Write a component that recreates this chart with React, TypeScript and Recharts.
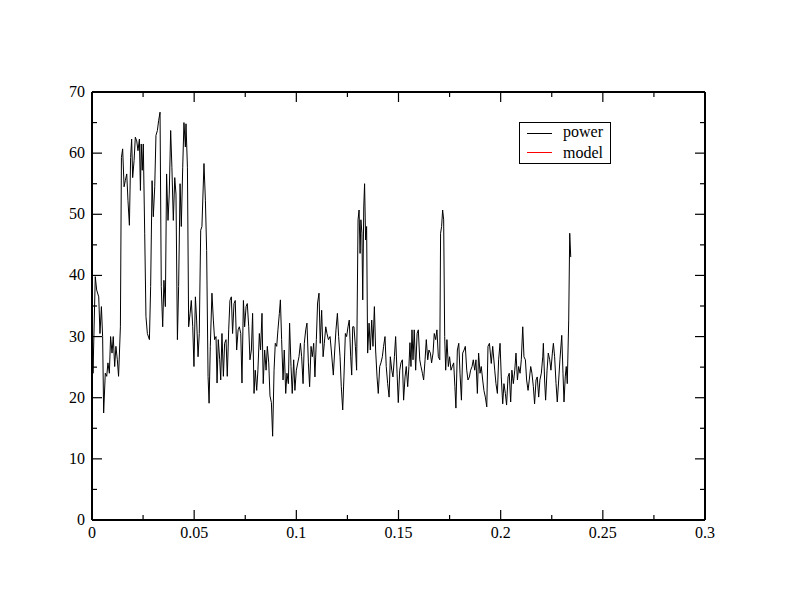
import React from 'react';
import { LineChart, Line, XAxis, YAxis, Legend } from 'recharts';

// sample times (s)
const times = [
  0, 0.0005, 0.0016, 0.0023, 0.0033, 0.0039, 0.0046, 0.0052, 0.0057, 0.0065,
  0.0072, 0.0078, 0.0085, 0.0091, 0.0098, 0.0104, 0.0111, 0.0117, 0.0124, 0.013,
  0.0139, 0.0144, 0.015, 0.0157, 0.0163, 0.017, 0.0176, 0.0183, 0.0189, 0.0194,
  0.0199, 0.0206, 0.0212, 0.0219, 0.0225, 0.0232, 0.0237, 0.0241, 0.0246, 0.0251,
  0.0258, 0.0264, 0.0271, 0.0281, 0.0287, 0.0294, 0.03, 0.0307, 0.0313, 0.032,
  0.0326, 0.0333, 0.0339, 0.0346, 0.0352, 0.0359, 0.0365, 0.0372, 0.0378, 0.0385,
  0.0391, 0.0398, 0.0405, 0.0411, 0.0418, 0.0424, 0.0431, 0.0437, 0.0444, 0.045,
  0.0457, 0.046, 0.0467, 0.0473, 0.048, 0.0486, 0.0493, 0.0499, 0.0506, 0.0512,
  0.0519, 0.0525, 0.0532, 0.0538, 0.0548, 0.0555, 0.0561, 0.0568, 0.0573, 0.0579,
  0.0587, 0.0594, 0.06, 0.0607, 0.0612, 0.0618, 0.0625, 0.063, 0.0636, 0.0643,
  0.0649, 0.0656, 0.0662, 0.0669, 0.0675, 0.0682, 0.0688, 0.0695, 0.0701, 0.0708,
  0.0715, 0.0721, 0.0728, 0.0734, 0.0741, 0.0747, 0.0754, 0.076, 0.0767, 0.0773,
  0.078, 0.0786, 0.0793, 0.0799, 0.0806, 0.0812, 0.0819, 0.0825, 0.0832, 0.0838,
  0.0845, 0.0852, 0.0858, 0.0865, 0.0871, 0.0878, 0.0884, 0.0891, 0.0897, 0.0904,
  0.091, 0.0917, 0.0922, 0.0928, 0.0935, 0.0941, 0.0948, 0.0954, 0.0961, 0.0967,
  0.0974, 0.098, 0.0987, 0.0993, 0.1, 0.1007, 0.1013, 0.102, 0.1026, 0.1033,
  0.1039, 0.1046, 0.1052, 0.1059, 0.1065, 0.1072, 0.1078, 0.1085, 0.1091, 0.1098,
  0.1104, 0.1111, 0.1117, 0.1124, 0.1131, 0.1137, 0.1144, 0.115, 0.1157, 0.1165,
  0.1171, 0.1181, 0.1188, 0.1194, 0.1201, 0.1207, 0.1214, 0.122, 0.1227, 0.1233,
  0.124, 0.1246, 0.1253, 0.1259, 0.1266, 0.1271, 0.1276, 0.1282, 0.1289, 0.1295,
  0.1302, 0.1307, 0.1312, 0.1316, 0.1321, 0.1325, 0.133, 0.1334, 0.1339, 0.1344,
  0.1349, 0.1356, 0.1362, 0.1369, 0.1375, 0.1382, 0.1388, 0.1395, 0.1401, 0.1408,
  0.1414, 0.1421, 0.1427, 0.1434, 0.144, 0.1447, 0.1454, 0.146, 0.1467, 0.1473,
  0.148, 0.1486, 0.1493, 0.1499, 0.1506, 0.1512, 0.1519, 0.1525, 0.1532, 0.1538,
  0.1545, 0.1551, 0.1556, 0.1561, 0.1566, 0.1571, 0.1577, 0.1584, 0.1591, 0.1597,
  0.1604, 0.161, 0.1617, 0.1623, 0.163, 0.1636, 0.1643, 0.1649, 0.1656, 0.1662,
  0.1669, 0.1675, 0.1682, 0.1688, 0.1695, 0.1702, 0.1706, 0.1711, 0.1716, 0.1721,
  0.1726, 0.1731, 0.1737, 0.1744, 0.175, 0.1757, 0.1763, 0.177, 0.1776, 0.1781,
  0.1788, 0.1795, 0.1801, 0.1808, 0.1814, 0.1821, 0.1827, 0.1834, 0.184, 0.1847,
  0.1853, 0.186, 0.1866, 0.1873, 0.1879, 0.1886, 0.1892, 0.1899, 0.1905, 0.1912,
  0.1918, 0.1925, 0.1932, 0.1938, 0.1945, 0.1954, 0.1961, 0.1971, 0.1977, 0.1984,
  0.199, 0.1997, 0.2003, 0.201, 0.2016, 0.2023, 0.2029, 0.2036, 0.2042, 0.2049,
  0.2055, 0.2062, 0.2069, 0.2075, 0.2082, 0.2088, 0.2095, 0.2101, 0.2108, 0.2114,
  0.2121, 0.2127, 0.2134, 0.214, 0.2147, 0.2153, 0.216, 0.2166, 0.2173, 0.2179,
  0.2186, 0.2192, 0.2199, 0.2206, 0.2209, 0.2215, 0.222, 0.2227, 0.2233, 0.224,
  0.2246, 0.2253, 0.2258, 0.2264, 0.2271, 0.2277, 0.2284, 0.229, 0.2299, 0.2305,
  0.231, 0.2316, 0.2321, 0.2326, 0.2333, 0.2338, 0.2343,
];

const power = [
  32.7, 24, 39.8, 37.6, 36.5, 30.5, 34.9, 30, 17.5, 24,
  23.5, 25.7, 24, 30, 27.3, 30, 25.1, 28.4, 26.2, 23.5,
  31.6, 59.3, 60.7, 54.5, 55.5, 56.6, 52.3, 48.2, 59.3, 62.3,
  56, 58.8, 62.6, 62, 60.4, 62.3, 53.9, 61.5, 57.2, 61.5,
  46.8, 33.3, 30.5, 29.5, 38.2, 55.5, 49.6, 54.5, 62.9, 63.7,
  65.3, 66.7, 38.2, 31.6, 39.2, 34.9, 56.6, 49, 53.3, 63.7,
  57.7, 49, 56, 53.3, 29.5, 38.2, 55, 48, 57.7, 65,
  61, 64.8, 57.7, 31.6, 33.8, 35.9, 31.6, 25.1, 36.5, 32.7,
  26.7, 30.5, 47.4, 48, 58.3, 52.3, 44.1, 23.5, 19.1, 28.4,
  37.1, 32.7, 29.5, 30, 22.4, 29.5, 26.2, 22.9, 30.5, 23.5,
  28.9, 29.5, 23.5, 31.1, 35.9, 36.5, 30.5, 35.4, 35.9, 27.8,
  31.1, 31.6, 30.5, 22.4, 35.9, 31.6, 34.9, 35.4, 31.6, 26.2,
  27.8, 33.8, 20.7, 24.5, 21.2, 24.5, 30.5, 27.8, 33.8, 22.3,
  27.8, 24.5, 28.4, 25.7, 20.3, 19.2, 13.7, 24.5, 28.9, 28.4,
  31.1, 33.8, 36, 29.5, 22.9, 27.8, 20.7, 24, 22.3, 32.2,
  25.1, 20.7, 26.2, 21.2, 24.5, 25.7, 26.7, 28.9, 26.7, 22.3,
  28.9, 31.1, 32.2, 25.7, 21.8, 28.4, 26.7, 28.9, 23.4, 29.5,
  35.5, 37.1, 28.9, 34.3, 26.7, 28.9, 31.6, 30.5, 29.5, 30,
  27.8, 23.7, 27.8, 31.1, 33.8, 30, 26.7, 21.8, 18, 23.4,
  30.5, 30, 31.6, 32.7, 26.7, 23.7, 31.6, 31.6, 28.4, 24.5,
  49.1, 50.7, 43.6, 49.1, 46.9, 36, 51.2, 55, 45.8, 48,
  27.3, 32.2, 27.8, 32.7, 28.4, 34.9, 27.8, 23.4, 20.7, 25.1,
  25.7, 26.7, 28.4, 30, 25.1, 22.3, 20.1, 26.7, 24.5, 23.4,
  26.7, 30, 24, 19.2, 24.5, 25.7, 26.2, 19.6, 23.4, 25.1,
  21.8, 25.1, 29, 25.1, 31.1, 26.2, 31.1, 24.5, 30.5, 31.1,
  26.2, 25.1, 24, 22.9, 26.2, 29.5, 26.2, 27.8, 27.3, 25.7,
  27.3, 30.5, 29.5, 31.1, 26.7, 26.2, 46.9, 48, 50.7, 49.1,
  30, 24.5, 29.5, 25.1, 26.7, 24.5, 25.1, 25.7, 21.8, 18.3,
  27.8, 28.9, 24, 19.6, 27.3, 27.8, 28.4, 24.5, 22.9, 23.4,
  24.5, 25.1, 26.2, 24.5, 26.2, 20.7, 27.3, 24, 25.1, 22.9,
  21.2, 20.1, 18.5, 28.4, 28.9, 25.6, 28.4, 24.5, 22.3, 20.7,
  26.2, 28.9, 23.4, 19, 22.3, 20.7, 18.8, 23.4, 24, 19.3,
  24.5, 22.3, 24.5, 27.3, 22.9, 25.1, 24, 26.2, 31.6, 26.7,
  26.2, 22.9, 21.2, 22.9, 25.1, 24, 21.8, 19, 22.9, 23.4,
  20.1, 22.9, 24, 26.7, 28.9, 22.9, 19.6, 24.5, 27.3, 26.2,
  24.5, 27.3, 28.9, 26.7, 22.3, 19.3, 22.9, 26.2, 30.2, 24,
  19.3, 23.4, 25.1, 22.3, 32.7, 46.9, 43,
];

const modelTimes = [0, 0.2343];
const modelValues = [0, 0];

const seriesOrder = ['power', 'model'];
const xTicks = [0, 0.025, 0.05, 0.075, 0.1, 0.125, 0.15, 0.175, 0.2, 0.225, 0.25, 0.275, 0.3];
const yTicks = [0, 5, 10, 15, 20, 25, 30, 35, 40, 45, 50, 55, 60, 65, 70];

const powerData = times.map((t, i) => ({ t, power: power[i] }));
const modelData = modelTimes.map((t, i) => ({ t, model: modelValues[i] }));

const FONT = '"Liberation Serif", "Times New Roman", serif';
const isMajor = (v: number, step: number) => Math.abs(v / step - Math.round(v / step)) < 1e-6;
const fmt = (v: number) => String(parseFloat(v.toFixed(3)));

const BottomTick = (props: any) => {
  const { x, y, payload } = props;
  const major = isMajor(payload.value, 0.05);
  return (
    <g>
      <line x1={x} y1={y} x2={x} y2={y - (major ? 10 : 5)} stroke="#000" strokeWidth={1.2} />
      {major && (
        <text x={x} y={y + 18} textAnchor="middle" fontSize={16} fontFamily={FONT} fill="#000">
          {fmt(payload.value)}
        </text>
      )}
    </g>
  );
};

const TopTick = (props: any) => {
  const { x, y, payload } = props;
  const major = isMajor(payload.value, 0.05);
  return <line x1={x} y1={y} x2={x} y2={y + (major ? 10 : 5)} stroke="#000" strokeWidth={1.2} />;
};

const LeftTick = (props: any) => {
  const { x, y, payload } = props;
  const major = isMajor(payload.value, 10);
  return (
    <g>
      <line x1={x} y1={y} x2={x + (major ? 10 : 5)} y2={y} stroke="#000" strokeWidth={1.2} />
      {major && (
        <text x={x - 7} y={y + 5} textAnchor="end" fontSize={16} fontFamily={FONT} fill="#000">
          {fmt(payload.value)}
        </text>
      )}
    </g>
  );
};

const RightTick = (props: any) => {
  const { x, y, payload } = props;
  const major = isMajor(payload.value, 10);
  return <line x1={x} y1={y} x2={x - (major ? 10 : 5)} y2={y} stroke="#000" strokeWidth={1.2} />;
};

const LegendBox = (props: any) => {
  const entries = [...(props.payload || [])].sort(
    (a: any, b: any) => seriesOrder.indexOf(a.value) - seriesOrder.indexOf(b.value)
  );
  return (
    <svg width={93} height={43} style={{ display: 'block' }}>
      <rect x={0.5} y={0.5} width={91} height={41} fill="#fff" stroke="#000" />
      {entries.map((e: any, i: number) => (
        <g key={e.value}>
          <line x1={8} x2={33} y1={11.5 + i * 19} y2={11.5 + i * 19} stroke={e.color} />
          <text x={44} y={15 + i * 21} fontSize={16} fontFamily={FONT} fill="#000">
            {e.value}
          </text>
        </g>
      ))}
    </svg>
  );
};

export default function App() {
  return (
    <div style={{ position: 'absolute', left: 0, top: 0, width: 792, height: 612, background: '#fff' }}>
      <LineChart width={792} height={612} margin={{ top: 91, right: 86, bottom: 91, left: 91 }}>
        <XAxis
          xAxisId="b"
          type="number"
          dataKey="t"
          domain={[0, 0.3]}
          ticks={xTicks}
          interval={0}
          height={1}
          tickSize={0}
          tickMargin={0}
          tickLine={false}
          axisLine={{ stroke: '#000', strokeWidth: 2 }}
          tick={<BottomTick />}
          allowDataOverflow
        />
        <XAxis
          xAxisId="t"
          orientation="top"
          type="number"
          dataKey="t"
          domain={[0, 0.3]}
          ticks={xTicks}
          interval={0}
          height={1}
          tickSize={0}
          tickMargin={0}
          tickLine={false}
          axisLine={{ stroke: '#000', strokeWidth: 2 }}
          tick={<TopTick />}
          allowDataOverflow
        />
        <YAxis
          yAxisId="l"
          type="number"
          domain={[0, 70]}
          ticks={yTicks}
          interval={0}
          width={1}
          tickSize={0}
          tickMargin={0}
          tickLine={false}
          axisLine={{ stroke: '#000', strokeWidth: 2 }}
          tick={<LeftTick />}
          allowDataOverflow
        />
        <YAxis
          yAxisId="r"
          orientation="right"
          type="number"
          domain={[0, 70]}
          ticks={yTicks}
          interval={0}
          width={1}
          tickSize={0}
          tickMargin={0}
          tickLine={false}
          axisLine={{ stroke: '#000', strokeWidth: 2 }}
          tick={<RightTick />}
          allowDataOverflow
        />
        <Line
          xAxisId="b"
          yAxisId="l"
          data={powerData}
          dataKey="power"
          name="power"
          stroke="#000"
          strokeWidth={1}
          dot={false}
          activeDot={false}
          isAnimationActive={false}
        />
        <Line
          xAxisId="t"
          yAxisId="r"
          data={modelData}
          dataKey="model"
          name="model"
          stroke="#ff0000"
          strokeOpacity={0.45}
          strokeWidth={1}
          dot={false}
          activeDot={false}
          isAnimationActive={false}
        />
        <Legend
          layout="horizontal"
          verticalAlign="middle"
          align="center"
          content={<LegendBox />}
          wrapperStyle={{ left: 519, top: 122, width: 93, height: 43 }}
        />
      </LineChart>
    </div>
  );
}
